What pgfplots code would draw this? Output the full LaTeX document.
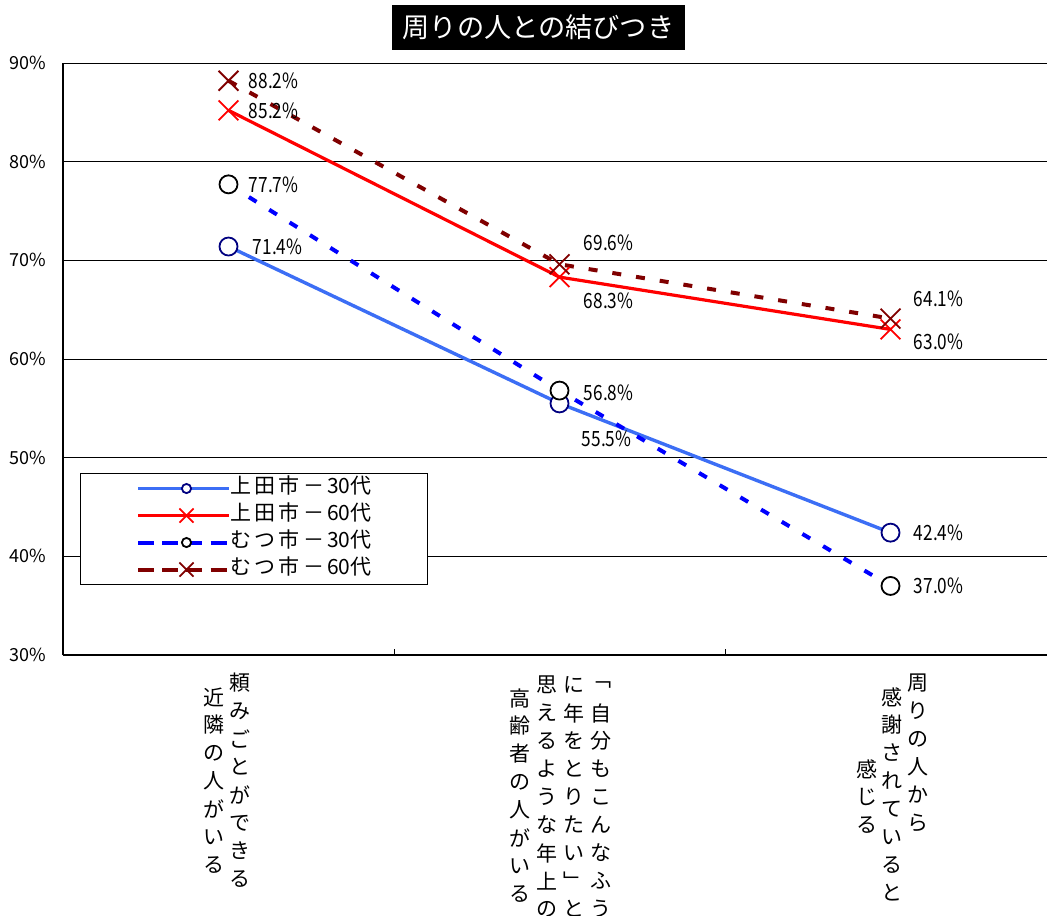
\documentclass[border=0pt]{standalone}
\usepackage{fontspec}
\setmainfont{Noto Sans CJK JP}
\newfontfamily\jp{Noto Sans CJK JP}
\newfontfamily\cond[FakeStretch=0.82]{Noto Sans CJK JP}
\usepackage{pgfplots}
\pgfplotsset{compat=1.18}
\definecolor{ublue}{RGB}{60,110,245}
\definecolor{navyc}{RGB}{0,0,128}
\definecolor{dred}{RGB}{128,0,0}
\newcommand\gp{\hspace{1.6pt}}
\pgfplotsset{legimg/.style={legend image code/.code={%
  \path (0pt,0pt) -- (45pt,0pt);
  \draw[##1, mark size=#1, mark repeat=2, mark phase=2] plot coordinates {(3.5pt,0pt)(24pt,0pt)(44.5pt,0pt)};}}}
\begin{document}
\begin{tikzpicture}
\path[use as bounding box] (0,0) rectangle (523.5pt,-457.5pt);
\node[fill=black, text=white, inner sep=0pt, minimum width=146.5pt, minimum height=22.5pt, font=\jp\fontsize{13.6}{15}\selectfont] at (269.25pt,-13.75pt) {周りの人との結びつき};
\begin{axis}[
  at={(31.5pt,-327.5pt)}, anchor=south west,
  scale only axis, width=492pt, height=296pt,
  xmin=-0.5, xmax=2.4728, ymin=30, ymax=90,
  axis x line*=bottom, axis y line*=left,
  axis line style={black, line width=0.7pt},
  xtick={0.5,1.5}, xticklabels={},
  ytick={30,40,...,90},
  tick align=inside,
  major tick length=3pt,
  xtick style={black, line width=0.5pt},
  ytick style={draw=none},
  ymajorgrids, grid style={black, line width=0.5pt},
  yticklabel={\pgfmathprintnumber{\tick}\%},
  /pgf/number format/assume math mode=true,
  yticklabel style={font=\jp\fontsize{9}{10}\selectfont, xshift=-5pt},
  clip=false,
  legend cell align=left,
  legend style={at={(0.01728,0.3074)}, anchor=north west, draw=black, line width=0.5pt, fill=white,
    font=\jp\fontsize{10.5}{12}\selectfont, inner xsep=28pt, inner ysep=2.5pt, row sep=3.5pt,
    nodes={inner sep=0pt, text height=7.5pt, text depth=2.5pt},
    /tikz/every even column/.append style={column sep=3pt}},
]
\addplot[color=ublue, line width=1.7pt, mark=*, mark size=4.5pt, mark options={solid, draw=navyc, fill=white, line width=0.9pt}, legimg=2.3pt]
  coordinates {(0,71.4)(1,55.5)(2,42.4)};
\addlegendentry{上\gp 田\gp 市\gp －\gp 30代}
\addplot[color=red, line width=1.6pt, mark=x, mark size=7pt, mark options={solid, line width=0.9pt}, legimg=5pt]
  coordinates {(0,85.2)(1,68.3)(2,63.0)};
\addlegendentry{上\gp 田\gp 市\gp －\gp 60代}
\addplot[color=blue, line width=2pt, dash pattern=on 4.5pt off 7.5pt, mark=*, mark size=4.5pt, mark options={solid, draw=black, fill=white, line width=0.9pt}, legimg=2.3pt]
  coordinates {(0,77.7)(1,56.8)(2,37.0)};
\addlegendentry{む\gp つ\gp 市\gp －\gp 30代}
\addplot[color=dred, line width=2pt, dash pattern=on 4.5pt off 7.5pt, mark=x, mark size=7pt, mark options={solid, line width=0.9pt}, legimg=5pt]
  coordinates {(0,88.2)(1,69.6)(2,64.1)};
\addlegendentry{む\gp つ\gp 市\gp －\gp 60代}
\begin{scope}[every node/.style={anchor=west, inner sep=0pt, font=\cond\fontsize{10.5}{12}\selectfont}]
\node[xshift=10pt] at (axis cs:0,88.2) {88.2\%};
\node[xshift=10pt] at (axis cs:0,85.2) {85.2\%};
\node[xshift=10pt] at (axis cs:0,77.7) {77.7\%};
\node[xshift=12pt] at (axis cs:0,71.4) {71.4\%};
\node[xshift=12pt, yshift=10.5pt] at (axis cs:1,69.6) {69.6\%};
\node[xshift=12pt, yshift=-12pt] at (axis cs:1,68.3) {68.3\%};
\node[xshift=12pt, yshift=-1pt] at (axis cs:1,56.8) {56.8\%};
\node[xshift=11pt, yshift=-17.5pt] at (axis cs:1,55.5) {55.5\%};
\node[xshift=11.5pt, yshift=10pt] at (axis cs:2,64.1) {64.1\%};
\node[xshift=11.5pt, yshift=-6pt] at (axis cs:2,63.0) {63.0\%};
\node[xshift=11.5pt] at (axis cs:2,42.4) {42.4\%};
\node[xshift=11.5pt] at (axis cs:2,37.0) {37.0\%};
\end{scope}
\end{axis}
\begin{scope}[x=0.5pt, y=-0.5pt, every node/.style={inner sep=0pt, font=\jp\fontsize{10.5}{12}\selectfont}]
\foreach \c [count=\i from 0] in {頼,み,ご,と,が,で,き,る} \node at (240,683+28*\i) {\c};
\foreach \c [count=\i from 0] in {近,隣,の,人,が,い,る} \node at (214,697+28*\i) {\c};
\foreach \c [count=\i from 0] in {﹁,自,分,も,こ,ん,な,ふ,う} \node at (601,685+28*\i) {\c};
\foreach \c [count=\i from 0] in {に,年,を,と,り,た,い,﹂,と} \node at (574,685+28*\i) {\c};
\foreach \c [count=\i from 0] in {思,え,る,よ,う,な,年,上,の} \node at (547,685+28*\i) {\c};
\foreach \c [count=\i from 0] in {高,齢,者,の,人,が,い,る} \node at (520,698+28*\i) {\c};
\foreach \c [count=\i from 0] in {周,り,の,人,か,ら} \node at (918,683+28*\i) {\c};
\foreach \c [count=\i from 0] in {感,謝,さ,れ,て,い,る,と} \node at (892,697+28*\i) {\c};
\foreach \c [count=\i from 0] in {感,じ,る} \node at (867,769+28*\i) {\c};
\end{scope}
\end{tikzpicture}
\end{document}
